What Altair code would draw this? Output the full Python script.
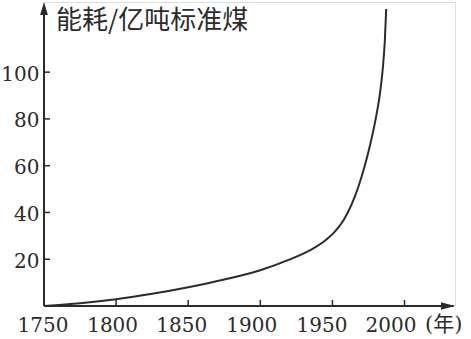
import altair as alt
import pandas as pd

years = [1750, 1775, 1800, 1825, 1850, 1875, 1900, 1920, 1935, 1945, 1952, 1958, 1963, 1968, 1972, 1976, 1980, 1983, 1985, 1986.3, 1987.3]
energy = [0, 1.2, 2.9, 5.2, 8.0, 11.3, 15.3, 19.8, 24.0, 28.0, 32.0, 37.0, 43.0, 51.0, 59.0, 68.5, 80.0, 91.0, 102.0, 113.0, 127.0]

x_ticks = [1750, 1800, 1850, 1900, 1950, 2000]
y_ticks = [20, 40, 60, 80, 100]
x_max = 2035
y_max = 130

W, H = 411, 304
FONT = "DejaVu Serif"
FS = 20
INK = "#2b2b2b"

xs = alt.Scale(domain=[1750, x_max], nice=False, zero=False)
ys = alt.Scale(domain=[0, y_max], nice=False)

curve_df = pd.DataFrame({"year": years, "e": energy})

x_label_shift = {
    "condition": [
        {"test": "datum.value == 1800", "value": -4},
        {"test": "datum.value == 1850", "value": -7},
        {"test": "datum.value == 1900", "value": -9},
        {"test": "datum.value == 1950", "value": -11},
        {"test": "datum.value == 2000", "value": -14},
    ],
    "value": -1.5,
}

curve = alt.Chart(curve_df).mark_line(color=INK, strokeWidth=2, interpolate="monotone").encode(
    x=alt.X("year:Q", scale=xs, axis=alt.Axis(values=x_ticks, format="d", ticks=False, domain=False,
                                              grid=False, labelFont=FONT, labelFontSize=FS,
                                              labelColor=INK, labelPadding=9, title=None,
                                              labelFlush=False, labelOffset=x_label_shift)),
    y=alt.Y("e:Q", scale=ys, axis=alt.Axis(values=y_ticks, ticks=False, domain=False, grid=False,
                                           labelFont=FONT, labelFontSize=FS, labelColor=INK,
                                           labelPadding=5, title=None, labelOffset=2)),
)

# axis lines
xline = alt.Chart(pd.DataFrame({"a": [1750], "b": [x_max - 1]})).mark_rule(color=INK, strokeWidth=2).encode(
    x=alt.X("a:Q", scale=xs), x2="b:Q", y=alt.value(H))
yline = alt.Chart(pd.DataFrame({"a": [0], "b": [y_max - 2]})).mark_rule(color=INK, strokeWidth=2).encode(
    y=alt.Y("a:Q", scale=ys), y2="b:Q", x=alt.value(0))

# inward ticks
xt = alt.Chart(pd.DataFrame({"t": x_ticks[1:]})).mark_rule(color=INK, strokeWidth=1.5).encode(
    x=alt.X("t:Q", scale=xs), y=alt.value(H), y2=alt.value(H - 6))
yt = alt.Chart(pd.DataFrame({"t": y_ticks})).mark_rule(color=INK, strokeWidth=1.5).encode(
    y=alt.Y("t:Q", scale=ys), x=alt.value(0), x2=alt.value(6))

# arrowheads (tip at the point)
up = alt.Chart(pd.DataFrame({"v": [y_max]})).mark_point(
    shape="M0,0 L-0.3,1 L0.3,1 Z", filled=True, color=INK, opacity=1, size=(2 * 13) ** 2
).encode(y=alt.Y("v:Q", scale=ys), x=alt.value(0))
right = alt.Chart(pd.DataFrame({"v": [x_max]})).mark_point(
    shape="M0,0 L-1,-0.27 L-1,0.27 Z", filled=True, color=INK, opacity=1, size=(2 * 14) ** 2
).encode(x=alt.X("v:Q", scale=xs), y=alt.value(H))

ytitle = alt.Chart(pd.DataFrame({"t": ["能耗/亿吨标准煤"]})).mark_text(
    font="Noto Sans CJK SC", fontSize=26, align="left", baseline="middle", color=INK
).encode(text="t:N", x=alt.value(12), y=alt.value(19))

xtitle = alt.Chart(pd.DataFrame({"t": ["(年)"]})).mark_text(
    font="DejaVu Serif, Noto Sans CJK SC", fontSize=FS + 1, align="left",
    baseline="top", color=INK
).encode(text="t:N", x=alt.value(381), y=alt.value(H + 8))

chart = alt.layer(curve, xline, yline, xt, yt, up, right, ytitle, xtitle).properties(
    width=W, height=H,
    padding={"left": 44, "top": 2, "right": 16, "bottom": 33},
    autosize=alt.AutoSizeParams(type="none"),
).configure_view(stroke=None).configure(background="white")

chart.save("out.html", embed_options={"renderer": "svg", "actions": False})
